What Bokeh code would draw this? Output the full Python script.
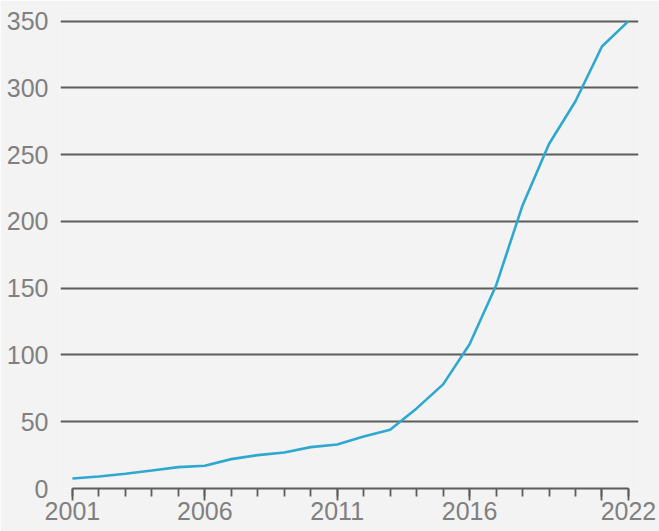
from bokeh.plotting import figure
from bokeh.models import FixedTicker, Range1d
from bokeh.embed import file_html
from bokeh.resources import INLINE

years = list(range(2001, 2023))
values = [7.5, 9, 11, 13.5, 16, 17, 22, 25, 27, 31, 33, 39, 44, 60, 78, 108, 152, 212, 258, 290, 331, 350]
y_ticks = [0, 50, 100, 150, 200, 250, 300, 350]
x_major = [2001, 2006, 2011, 2016, 2021, 2022]
x_labels = {2021: "", 2001: "2001", 2006: "2006", 2011: "2011", 2016: "2016", 2022: "2022"}

BG = "#f3f3f3"
p = figure(width=659, height=531, output_backend="svg", toolbar_location=None,
           x_range=Range1d(2000.55, 2022.38), y_range=Range1d(0, 358),
           min_border_left=60, min_border_right=21, min_border_top=10, min_border_bottom=43)
p.background_fill_color = BG
p.border_fill_color = BG
p.outline_line_color = None

p.line(years, values, line_color="#2fa8cf", line_width=2.6)

# y axis
p.yaxis.ticker = FixedTicker(ticks=y_ticks)
p.yaxis.axis_line_color = None
p.yaxis.major_tick_line_color = None
p.yaxis.minor_tick_line_color = None
p.yaxis.major_label_standoff = 6
p.yaxis.major_label_text_font = "Liberation Sans"
p.yaxis.major_label_text_font_size = "25px"
p.yaxis.major_label_text_color = "#808080"

p.ygrid.ticker = FixedTicker(ticks=y_ticks)
p.ygrid.grid_line_color = "#5c5c5c"
p.ygrid.grid_line_width = 1.8
p.xgrid.grid_line_color = None

# x axis
p.xaxis.ticker = FixedTicker(ticks=x_major, minor_ticks=years)
p.xaxis.major_label_overrides = x_labels
p.xaxis.bounds = (2001, 2022)
p.xaxis.axis_line_color = "#5c5c5c"
p.xaxis.axis_line_width = 1.8
p.xaxis.major_tick_line_color = "#5c5c5c"
p.xaxis.major_tick_line_width = 1.8
p.xaxis.major_tick_in = 0
p.xaxis.major_tick_out = 12
p.xaxis.minor_tick_line_color = "#5c5c5c"
p.xaxis.minor_tick_line_width = 1.8
p.xaxis.minor_tick_in = 0
p.xaxis.minor_tick_out = 8
p.xaxis.major_label_standoff = 1
p.xaxis.major_label_text_font = "Liberation Sans"
p.xaxis.major_label_text_font_size = "25px"
p.xaxis.major_label_text_color = "#808080"

open("out.html", "w").write(file_html(p, INLINE))
